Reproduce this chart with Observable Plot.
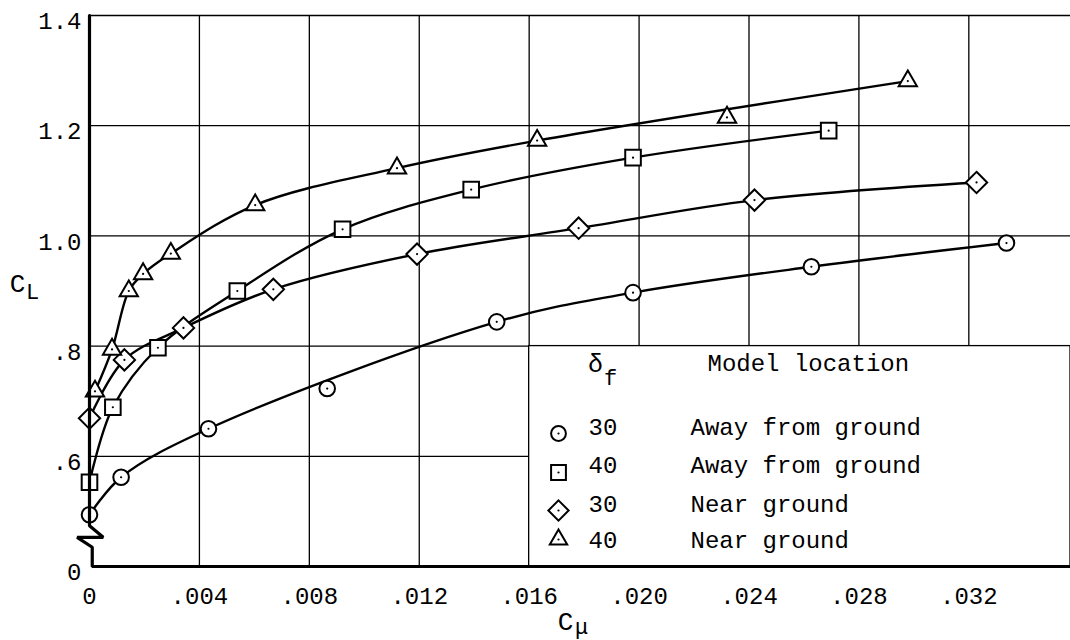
<!DOCTYPE html>
<html><head><meta charset="utf-8">
<script src="https://cdn.jsdelivr.net/npm/d3@7"></script>
<script src="https://cdn.jsdelivr.net/npm/@observablehq/plot@0.6"></script>
<style>
body{margin:0;background:#fff;}
#chart{width:1070px;height:640px;}
</style></head><body><div id="chart"></div>
<script>
// Tick values and labels
const xTicks = [0, 0.004, 0.008, 0.012, 0.016, 0.020, 0.024, 0.028, 0.032];
const xTickLabels = ["0", ".004", ".008", ".012", ".016", ".020", ".024", ".028", ".032"];
const yTicks = [0.4, 0.6, 0.8, 1.0, 1.2, 1.4];           // 0.4 position carries the broken-axis "0"
const yTickLabels = ["0", ".6", ".8", "1.0", "1.2", "1.4"];

// Series: delta_f = 30, away from ground (circles)
const cmuC30Away = [0, 0.00115, 0.00433, 0.00865, 0.01482, 0.01978, 0.02627, 0.03337];
const clC30Away  = [0.494, 0.562, 0.650, 0.723, 0.844, 0.897, 0.944, 0.987];
// delta_f = 40, away from ground (squares)
const cmuS40Away = [0, 0.00085, 0.00249, 0.00538, 0.00921, 0.01389, 0.01978, 0.0269];
const clS40Away  = [0.553, 0.689, 0.797, 0.900, 1.012, 1.084, 1.142, 1.191];
// delta_f = 30, near ground (diamonds)
const cmuD30Near = [0, 0.00127, 0.00342, 0.00669, 0.01192, 0.0178, 0.0242, 0.03228];
const clD30Near  = [0.669, 0.775, 0.833, 0.903, 0.967, 1.014, 1.065, 1.097];
// delta_f = 40, near ground (triangles)
const cmuT40Near = [0.0002, 0.00082, 0.00143, 0.00195, 0.00296, 0.00603, 0.01119, 0.01629, 0.0232, 0.02978];
const clT40Near  = [0.718, 0.794, 0.900, 0.931, 0.968, 1.056, 1.123, 1.173, 1.215, 1.281];

// points lying off the faired curve
const offCurveC30Away = [3];
const offCurveT40Near = [8];

const deltaLabels = ["30", "40", "30", "40"];
const locationLabels = ["Away from ground", "Away from ground", "Near ground", "Near ground"];

// broken y-axis frame (zig-zag break near the origin)
const frameCmu = [0, 0, 0.0005, -0.00045, 0.0001, 0.0001, 0.0357];
const frameCl  = [1.4, 0.474, 0.453, 0.453, 0.435, 0.4, 0.4];

const legendBox = [{x1: 0.016, x2: 0.0357, y1: 0.4, y2: 0.8}];

const FONT = "Liberation Mono, Courier New, monospace";

const series = [
  {key: "c", symbol: "circle",   r: 7.8, cmu: cmuC30Away, cl: clC30Away, off: offCurveC30Away},
  {key: "s", symbol: "square",   r: 8.8, cmu: cmuS40Away, cl: clS40Away, off: []},
  {key: "d", symbol: "diamond2", r: 9.6, cmu: cmuD30Near, cl: clD30Near, off: []},
  {key: "t", symbol: "triangle", r: 6.8, cmu: cmuT40Near, cl: clT40Near, off: offCurveT40Near}
];
const rows = series.flatMap(s => s.cmu.map((x, i) => ({key: s.key, x, y: s.cl[i], onCurve: !s.off.includes(i)})));
const frameRows = frameCmu.map((x, i) => ({x, y: frameCl[i]}));

const legendSymbolDy = [418, 457, 495, 524];
const legendTextDy = [412, 450, 489, 525];

const marks = [
  Plot.ruleX(xTicks.slice(1), {stroke: "#000", strokeWidth: 1.3}),
  Plot.ruleY(yTicks.slice(1), {stroke: "#000", strokeWidth: 1.3}),
  Plot.rect(legendBox, {x1: "x1", x2: "x2", y1: "y1", y2: "y2", fill: "#fff", stroke: "#000", strokeWidth: 1.3}),
  Plot.line(rows.filter(d => d.onCurve), {x: "x", y: "y", z: "key", curve: "catmull-rom", stroke: "#000", strokeWidth: 2.4}),
  ...series.map(s => Plot.dot(rows.filter(d => d.key === s.key), {x: "x", y: "y", symbol: () => s.symbol, r: s.r, fill: "#fff", stroke: "#000", strokeWidth: 2})),
  Plot.dot(rows, {x: "x", y: "y", r: 1.1, fill: "#000"}),
  Plot.line(frameRows, {x: "x", y: "y", stroke: "#000", strokeWidth: 3.2, strokeLinejoin: "miter"}),
  Plot.axisX(xTicks, {tickSize: 0, tickPadding: 20, tickFormat: d => xTickLabels[xTicks.indexOf(d)], fontSize: 24, fontFamily: FONT, label: null}),
  Plot.axisY(yTicks, {tickSize: 0, tickPadding: 8, dy: 6, tickFormat: d => yTickLabels[yTicks.indexOf(d)], fontSize: 24, fontFamily: FONT, label: null}),
  // legend
  Plot.text(["\u03b4"], {text: d => d, frameAnchor: "top-left", dx: 506, dy: 348, fontSize: 25, fontFamily: FONT, textAnchor: "middle", lineAnchor: "middle"}),
  Plot.text(["f"], {text: d => d, frameAnchor: "top-left", dx: 521, dy: 362, fontSize: 22, fontFamily: FONT, textAnchor: "middle", lineAnchor: "middle"}),
  Plot.text(["Model location"], {text: d => d, frameAnchor: "top-left", dx: 618, dy: 348, fontSize: 24, fontFamily: FONT, textAnchor: "start", lineAnchor: "middle", style: {letterSpacing: "0.6px"}}),
  ...series.map((s, i) => Plot.dot([0], {frameAnchor: "top-left", dx: 469, dy: legendSymbolDy[i], symbol: () => s.symbol, r: s.r * 0.95, fill: "#fff", stroke: "#000", strokeWidth: 2})),
  ...series.map((s, i) => Plot.dot([0], {frameAnchor: "top-left", dx: 469, dy: legendSymbolDy[i], r: 1.1, fill: "#000"})),
  ...deltaLabels.map((t, i) => Plot.text([t], {text: d => d, frameAnchor: "top-left", dx: 499, dy: legendTextDy[i], fontSize: 24, fontFamily: FONT, textAnchor: "start", lineAnchor: "middle"})),
  ...locationLabels.map((t, i) => Plot.text([t], {text: d => d, frameAnchor: "top-left", dx: 601, dy: legendTextDy[i], fontSize: 24, fontFamily: FONT, textAnchor: "start", lineAnchor: "middle", style: {letterSpacing: "0.5px"}})),
  // axis titles
  Plot.text(["C"], {text: d => d, frameAnchor: "top-left", dx: -72, dy: 268, fontSize: 26, fontFamily: FONT, textAnchor: "middle", lineAnchor: "middle"}),
  Plot.text(["L"], {text: d => d, frameAnchor: "top-left", dx: -57, dy: 276, fontSize: 22, fontFamily: FONT, textAnchor: "middle", lineAnchor: "middle"}),
  Plot.text(["C"], {text: d => d, frameAnchor: "bottom-left", dx: 476, dy: 55, fontSize: 26, fontFamily: FONT, textAnchor: "middle", lineAnchor: "middle"}),
  Plot.text(["\u03bc"], {text: d => d, frameAnchor: "bottom-left", dx: 492, dy: 60, fontSize: 22, fontFamily: FONT, textAnchor: "middle", lineAnchor: "middle"})
];

const chart = Plot.plot({
  width: 1070,
  height: 640,
  marginLeft: 89,
  marginRight: 0,
  marginTop: 15,
  marginBottom: 74,
  x: {domain: [0, 0.0357]},
  y: {domain: [0.4, 1.4]},
  style: {background: "#fff", color: "#000", fontFamily: FONT, overflow: "visible"},
  marks
});
document.getElementById("chart").appendChild(chart);
</script>
</body></html>
